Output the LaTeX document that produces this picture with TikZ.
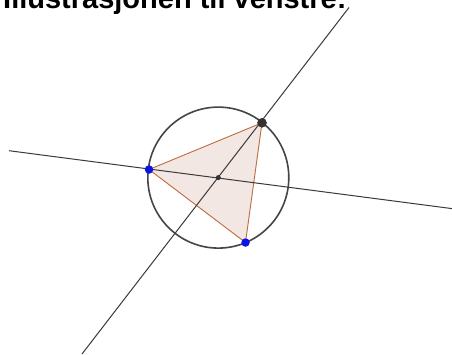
\documentclass[tikz,border=0pt]{standalone}
\usepackage{fontspec}
\setmainfont{Liberation Sans}
\definecolor{linegray}{HTML}{3A3A3A}
\definecolor{circgray}{HTML}{454545}
\definecolor{trifill}{HTML}{F3E7E3}
\definecolor{tristroke}{HTML}{BF6A40}
\definecolor{ptblue}{HTML}{0A14E6}
\definecolor{ptdark}{HTML}{333333}
\tikzset{
  axisline/.style={draw=linegray, line width=1pt},
  circ/.style={draw=circgray, line width=1.6pt},
  tri/.style={draw=tristroke, fill=trifill, line width=0.9pt, line join=round},
  bluept/.style={circle, fill=ptblue, inner sep=0pt, minimum size=8.5pt},
  darkpt/.style={circle, fill=ptdark, draw=black!80, line width=0.5pt, inner sep=0pt, minimum size=9pt},
  centerpt/.style={circle, fill=ptdark, inner sep=0pt, minimum size=5pt},
  title/.style={anchor=base west, inner sep=0pt, font=\fontsize{29}{31}\selectfont\bfseries}
}
\begin{document}
\begin{tikzpicture}[x=1pt,y=-1pt]
\useasboundingbox (0,0) rectangle (452,354);
\clip (0,0) rectangle (452,354);
\fill[white] (0,0) rectangle (452,354);
\coordinate (O) at (218.3,177.6);
\coordinate (A) at (262.0,122.8);
\coordinate (B) at (149.0,169.5);
\coordinate (C) at (245.5,242.5);
\coordinate (L1a) at (9,150.7);
\coordinate (L1b) at (452,208.6);
\coordinate (L2a) at (349,7.5);
\coordinate (L2b) at (82,354);
\node[title] (t) at (3,8.5) {Illustrasjonen til venstre:};
\path[tri] (A) -- (B) -- (C) -- cycle;
\draw[axisline] (L1a) -- (L1b);
\draw[axisline] (L2a) -- (L2b);
\draw[circ] (O) circle[radius=70.5];
\node[centerpt] (o) at (O) {};
\node[darkpt] (a) at (A) {};
\node[bluept] (b) at (B) {};
\node[bluept] (c) at (C) {};
\end{tikzpicture}
\end{document}
